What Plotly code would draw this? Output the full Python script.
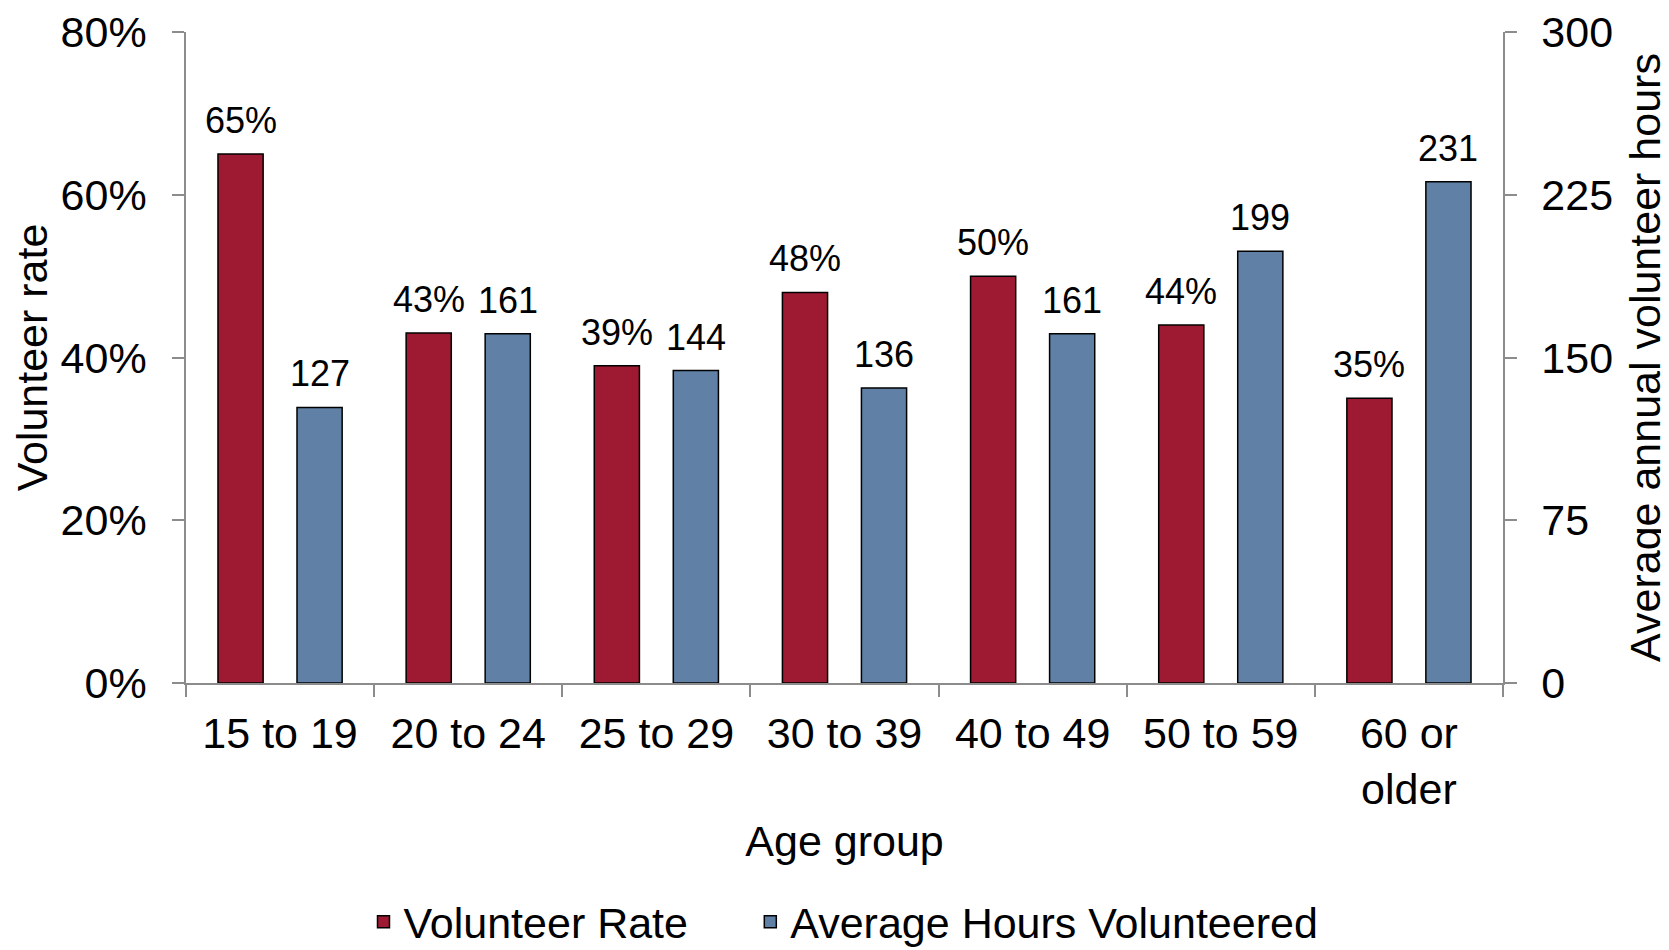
import plotly.graph_objects as go

categories = ["15 to 19", "20 to 24", "25 to 29", "30 to 39", "40 to 49", "50 to 59", "60 or<br>older"]
volunteer_rate = [0.65, 0.43, 0.39, 0.48, 0.50, 0.44, 0.35]
avg_hours = [127, 161, 144, 136, 161, 199, 231]
rate_ticks = [0, 0.2, 0.4, 0.6, 0.8]
hours_ticks = [0, 75, 150, 225, 300]

RED = "#9E1A32"
BLUE = "#6080A6"
FONT = "Liberation Sans, Arial, sans-serif"

W, H = 1661, 942
ML, MR, MT, MB = 178, 166, 24, 267
BAR_W, RED_OFF, BLUE_OFF = 0.24, -0.33, 0.09
cat_px = (W - ML - MR) / len(categories)

fig = go.Figure()
fig.add_trace(go.Bar(
    x=categories, y=volunteer_rate, name="Volunteer Rate", legend="legend",
    marker=dict(color=RED, line=dict(color="black", width=1.5)),
    width=BAR_W, offset=RED_OFF, yaxis="y",
))
fig.add_trace(go.Bar(
    x=categories, y=avg_hours, name="Average Hours Volunteered", legend="legend2",
    marker=dict(color=BLUE, line=dict(color="black", width=1.5)),
    width=BAR_W, offset=BLUE_OFF, yaxis="y2",
))

annots = []
for c, v in zip(categories, volunteer_rate):
    annots.append(dict(x=c, y=v, xref="x", yref="y", text=f"{v:.0%}", showarrow=False,
                       yanchor="bottom", xanchor="center", yshift=11,
                       xshift=(RED_OFF + BAR_W / 2) * cat_px,
                       font=dict(size=36, color="black", family=FONT)))
for c, v in zip(categories, avg_hours):
    annots.append(dict(x=c, y=v, xref="x", yref="y2", text=f"{v}", showarrow=False,
                       yanchor="bottom", xanchor="center", yshift=11,
                       xshift=(BLUE_OFF + BAR_W / 2) * cat_px,
                       font=dict(size=36, color="black", family=FONT)))

axis_common = dict(showgrid=False, zeroline=False, showline=True, linecolor="#8C8C8C",
                   linewidth=1.5, ticks="outside", tickcolor="#8C8C8C", ticklen=12, tickwidth=1.5,
                   automargin=False,
                   tickfont=dict(size=43, color="black", family=FONT))

legend_common = dict(orientation="h", yref="container", xref="container", y=0.03, yanchor="middle",
                     font=dict(size=43, family=FONT), itemwidth=30)

fig.update_layout(
    width=W, height=H,
    paper_bgcolor="white", plot_bgcolor="white",
    margin=dict(l=ML, r=MR, t=MT, b=MB, autoexpand=False),
    font=dict(family=FONT, color="black"),
    barmode="overlay",
    annotations=annots,
    xaxis=dict(**axis_common, tickson="boundaries", ticklabelstandoff=12,
               title=dict(text="Age group", font=dict(size=43, family=FONT), standoff=14)),
    yaxis=dict(**axis_common, range=[0, 0.8], tickvals=rate_ticks, tickformat=".0%",
               ticklabelstandoff=17,
               title=dict(text="Volunteer rate", font=dict(size=43, family=FONT), standoff=2)),
    yaxis2=dict(**axis_common, range=[0, 300], tickvals=hours_ticks, overlaying="y", side="right",
                ticklabelstandoff=16,
                title=dict(text="Average annual volunteer hours", font=dict(size=43, family=FONT), standoff=18)),
    legend=dict(**legend_common, x=0.4127, xanchor="right"),
    legend2=dict(**legend_common, x=0.4469, xanchor="left"),
    showlegend=True,
)

fig.write_html("out.html")
